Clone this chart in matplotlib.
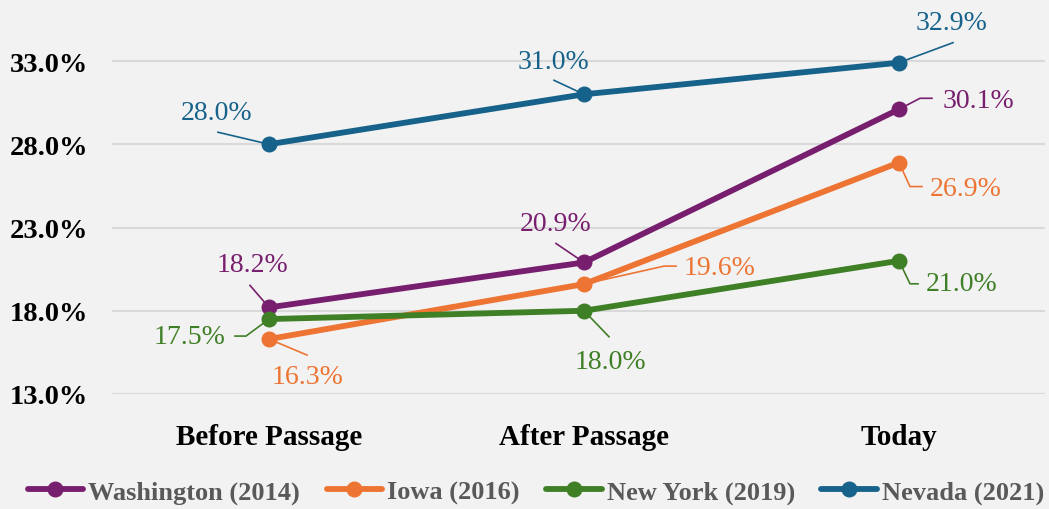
import matplotlib
matplotlib.use("Agg")
import matplotlib.pyplot as plt
import matplotlib.transforms as mtransforms

categories = ["Before Passage", "After Passage", "Today"]
series_names = ["Washington (2014)", "Iowa (2016)", "New York (2019)", "Nevada (2021)"]
washington = [18.2, 20.9, 30.1]
iowa = [16.3, 19.6, 26.9]
new_york = [17.5, 18.0, 21.0]
nevada = [28.0, 31.0, 32.9]
y_ticks = [13.0, 18.0, 23.0, 28.0, 33.0]

colors = ["#781E6E", "#ED7432", "#3F7F26", "#17628A"]
series = [washington, iowa, new_york, nevada]

# label placement (pixels, image-style: +y is down) relative to each marker
# text offset, then leader polyline from marker outwards
label_layout = {
    "Washington (2014)": [((-17, -43), [(0, 0), (-19, -22)]),
                          ((-28, -39), [(0, 0), (-28, -19)]),
                          ((79, -9), [(0, 0), (21, -11), (33, -11)])],
    "Iowa (2016)": [((39, 37), [(0, 0), (38, 16)]),
                    ((136, -17), [(0, 0), (80, -18), (92, -18)]),
                    ((67, 26), [(0, 0), (11, 24), (23, 24)])],
    "New York (2019)": [((-79, 17), [(0, 0), (-23, 17), (-34, 17)]),
                        ((26, 51), [(0, 0), (25, 26)]),
                        ((63, 23), [(0, 0), (11, 23), (19, 23)])],
    "Nevada (2021)": [((-52, -32), [(0, 0), (-51, -12)]),
                      ((-31, -33), [(0, 0), (-30, -14)]),
                      ((53, -40), [(0, 0), (54, -20)])],
}

plt.rcParams["font.family"] = ["Liberation Serif", "DejaVu Serif"]
BG = "#F2F2F2"

fig = plt.figure(figsize=(10.49, 5.10), dpi=100, facecolor=BG)
ax = fig.add_axes([112 / 1049, (510 - 395) / 510, (1045 - 112) / 1049, (395 - 37) / 510])
ax.set_facecolor(BG)

x = list(range(len(categories)))
for name, vals, col in zip(series_names, series, colors):
    ax.plot(x, vals, color=col, lw=4.2, marker="o", ms=10.5, label=name,
            solid_capstyle="round", zorder=3, clip_on=False)

ax.set_xlim(-157 / 315, (1045 - 269) / 315)
ax.set_ylim(13, 13 + (395 - 37) / 16.65)
ax.set_yticks(y_ticks)
ax.set_yticklabels([f"{v:.1f}%" for v in y_ticks], fontsize=20.5, fontweight="bold")
ax.set_xticks(x)
ax.set_xticklabels(categories, fontsize=21, fontweight="bold")
ax.tick_params(axis="y", length=0, pad=17)
ax.tick_params(axis="x", length=0, pad=21)
ax.grid(axis="y", color="#D9D9D9", lw=1.5, zorder=0)
ax.set_axisbelow(True)
for s in ax.spines.values():
    s.set_visible(False)

# data labels with leader lines
for name, vals, col in zip(series_names, series, colors):
    for i, v in enumerate(vals):
        (tdx, tdy), leader = label_layout[name][i]
        ax.annotate(f"{v:.1f}%", xy=(i, v), xytext=(tdx, -tdy),
                    textcoords="offset pixels", ha="center", va="center",
                    fontsize=20, color=col, annotation_clip=False, zorder=5)
        tr = mtransforms.IdentityTransform() + mtransforms.ScaledTranslation(i, v, ax.transData)
        ax.plot([p[0] for p in leader], [-p[1] for p in leader], color=col, lw=1.2,
                transform=tr, clip_on=False, zorder=2)

leg = fig.legend(loc="center", bbox_to_anchor=(0.511, 0.034), ncol=4, frameon=False,
                 handlelength=2.1, handletextpad=0.2, columnspacing=1.0,
                 prop={"weight": "bold", "size": 19})
for t in leg.get_texts():
    t.set_color("#595959")

fig.savefig("out.png", dpi=100, facecolor=BG)
